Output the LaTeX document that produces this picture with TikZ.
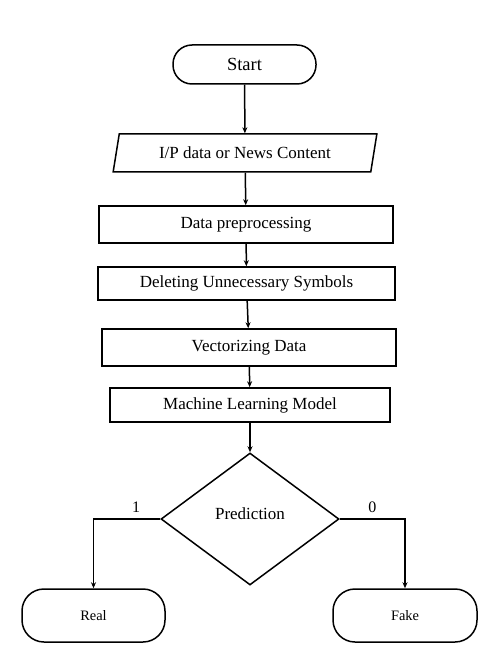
\documentclass[tikz,border=0pt]{standalone}
\usepackage{fontspec}
\setmainfont{Liberation Serif}
\usepackage{tikz}
\usetikzlibrary{arrows.meta,shapes.geometric}

\begin{document}
\begin{tikzpicture}[
  x=1pt,y=-1pt,
  font=\fontsize{17}{20}\selectfont,
  line width=1.5pt,
  proc/.style={draw,rectangle,inner sep=2pt},
  term/.style={draw,rectangle,rounded corners=19pt,inner sep=2pt},
  io/.style={draw,trapezium,trapezium left angle=75,trapezium right angle=105,trapezium stretches=true,inner sep=2pt},
  decide/.style={draw,diamond,aspect=1.35,inner sep=0pt},
  arr/.style={-{Stealth[length=6pt,width=5pt]},line width=1.5pt},
  lbl/.style={font=\fontsize{16}{18}\selectfont,inner sep=1pt},
]
\useasboundingbox (0,0) rectangle (491,660);

% top of the chart
\node[term,font=\fontsize{18.5}{21}\selectfont,minimum width=143pt,minimum height=39pt] (start) at (244.5,64.5) {Start};
\node[io,minimum width=264pt,minimum height=38pt] (input) at (245,153) {I/P data or News Content};

% processing steps
\node[proc,minimum width=294pt,minimum height=37pt] (prep) at (246,224.5) {Data preprocessing};
\node[proc,minimum width=297pt,minimum height=33pt] (clean) at (246.5,283.5) {Deleting Unnecessary Symbols};
\node[proc,minimum width=294pt,minimum height=37pt] (vect) at (249,347.5) {Vectorizing Data};
\node[proc,minimum width=280pt,minimum height=34pt] (model) at (250,405) {Machine Learning Model};

% decision and outcomes
\node[decide,minimum width=178pt,minimum height=132pt] (pred) at (250,519) {};
\node at (250,514) {Prediction};
\node[term,font=\fontsize{14.4}{17}\selectfont,rounded corners=22pt,minimum width=143pt,minimum height=53pt] (real) at (93.5,615.5) {Real};
\node[term,font=\fontsize{14.4}{17}\selectfont,rounded corners=22pt,minimum width=144pt,minimum height=53pt] (fake) at (405,615.5) {Fake};

% arrows
\draw[arr] (start) -- (input);
\draw[arr] (input) -- (prep);
\draw[arr] (prep) -- (clean);
\draw[arr] (clean) -- (vect);
\draw[arr] (vect) -- (model);
\draw[arr] (model) -- (pred);
\draw[arr] (pred.west) -| node[lbl,pos=0.18,above=5pt]{1} (real.north);
\draw[arr] (pred.east) -| node[lbl,pos=0.25,above=5pt]{0} (fake.north);
\end{tikzpicture}
\end{document}
